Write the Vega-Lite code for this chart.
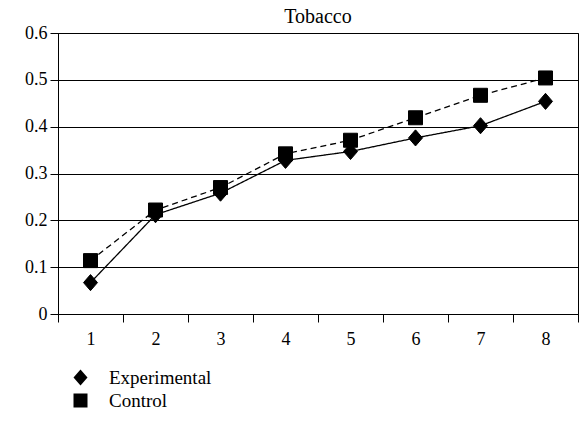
{
  "$schema": "https://vega.github.io/schema/vega-lite/v6.json",
  "width": 520,
  "height": 281,
  "autosize": {"type": "none"},
  "padding": {"left": 58, "top": 33, "right": 1, "bottom": 111},
  "background": "white",
  "title": {"text": "Tobacco", "fontSize": 20, "font": "Liberation Serif", "fontWeight": "normal", "color": "black", "offset": 5, "dy": 8, "anchor": "middle"},
  "config": {
    "view": {"stroke": "black", "strokeWidth": 1},
    "font": "Liberation Serif"
  },
  "data": {"values": [
    {"x": 1, "y": 0.067, "series": "Experimental"},
    {"x": 2, "y": 0.212, "series": "Experimental"},
    {"x": 3, "y": 0.258, "series": "Experimental"},
    {"x": 4, "y": 0.328, "series": "Experimental"},
    {"x": 5, "y": 0.347, "series": "Experimental"},
    {"x": 6, "y": 0.376, "series": "Experimental"},
    {"x": 7, "y": 0.402, "series": "Experimental"},
    {"x": 8, "y": 0.454, "series": "Experimental"},
    {"x": 1, "y": 0.114, "series": "Control"},
    {"x": 2, "y": 0.222, "series": "Control"},
    {"x": 3, "y": 0.27, "series": "Control"},
    {"x": 4, "y": 0.342, "series": "Control"},
    {"x": 5, "y": 0.371, "series": "Control"},
    {"x": 6, "y": 0.419, "series": "Control"},
    {"x": 7, "y": 0.467, "series": "Control"},
    {"x": 8, "y": 0.504, "series": "Control"}
  ]},
  "encoding": {
    "x": {"field": "x", "type": "quantitative",
      "scale": {"domain": [0.5, 8.5], "nice": false, "zero": false},
      "axis": {"title": null, "grid": false, "values": [0.5,1,1.5,2,2.5,3,3.5,4,4.5,5,5.5,6,6.5,7,7.5,8,8.5],
        "labelExpr": "datum.value % 1 === 0 ? format(datum.value, 'd') : ''",
        "tickOpacity": {"condition": {"test": "datum.value % 1 === 0", "value": 0}, "value": 1},
        "tickSize": 8, "tickColor": "black", "domainColor": "black", "labelColor": "black",
        "labelFontSize": 18, "labelFont": "Liberation Serif", "labelPadding": 8, "labelFlush": false}},
    "y": {"field": "y", "type": "quantitative",
      "scale": {"domain": [0, 0.6], "nice": false},
      "axis": {"title": null, "values": [0,0.1,0.2,0.3,0.4,0.5,0.6],
        "labelExpr": "datum.value === 0 ? '0' : format(datum.value, '.1f')",
        "grid": true, "gridColor": "black", "gridOpacity": 1, "gridWidth": 1,
        "tickSize": 8, "tickColor": "black", "domainColor": "black", "labelColor": "black",
        "labelFontSize": 18, "labelFont": "Liberation Serif", "labelPadding": 3}}
  },
  "resolve": {"scale": {"shape": "independent"}, "legend": {"shape": "independent"}},
  "layer": [
    {
      "mark": {"type": "line", "color": "black", "strokeWidth": 1.3},
      "encoding": {
        "detail": {"field": "series"},
        "strokeDash": {"field": "series", "type": "nominal",
          "scale": {"domain": ["Experimental", "Control"], "range": [[1, 0], [6, 4]]},
          "legend": null}
      }
    },
    {
      "mark": {"type": "point", "filled": true, "color": "black", "opacity": 1, "size": 196, "stroke": "black", "strokeWidth": 1},
      "encoding": {
        "shape": {"field": "series", "type": "nominal",
          "scale": {"domain": ["Experimental", "Control"], "range": ["M0,-1.15L1,0L0,1.15L-1,0Z", "M-1,-1H1V1H-1Z"]},
          "legend": null}
      }
    },
    {
      "mark": {"type": "point", "filled": true, "fill": "black", "stroke": "black", "strokeWidth": 1.3, "opacity": 0, "size": 0},
      "encoding": {
        "shape": {"field": "series", "type": "nominal",
          "scale": {"domain": ["Experimental", "Control"], "range": ["M-2.6,0H2.6M0,-1.15L1,0L0,1.15L-1,0Z", "M-2.6,0H-1.75M1.75,0H2.6M-1,-1H1V1H-1Z"]},
          "legend": {
            "title": null, "orient": "none", "legendX": 13, "legendY": 335,
            "padding": 0, "symbolSize": 196, "symbolFillColor": "black", "symbolStrokeColor": "black",
            "symbolStrokeWidth": 1.3, "symbolOpacity": 1,
            "labelFontSize": 19, "labelFont": "Liberation Serif", "labelColor": "black", "labelOffset": 19,
            "rowPadding": 1
          }}
      }
    }
  ]
}
